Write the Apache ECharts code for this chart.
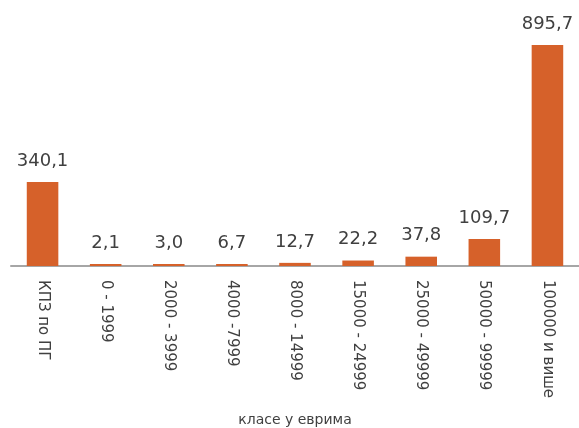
<!DOCTYPE html>
<html>
<head>
<meta charset="utf-8">
<script src="https://cdn.jsdelivr.net/npm/echarts@6/dist/echarts.min.js"></script>
<style>
  html, body { margin: 0; padding: 0; background: #fff; }
  #main { width: 579px; height: 428px; }
</style>
</head>
<body>
<div id="main"></div>
<script>
// категорије (класе у еврима)
var categories = ['КПЗ по ПГ', '0 - 1999', '2000 - 3999', '4000 -7999', '8000 - 14999',
  '15000 - 24999', '25000 - 49999', '50000 - 99999', '100000 и више'];
var values = [340.1, 2.1, 3.0, 6.7, 12.7, 22.2, 37.8, 109.7, 895.7];

var chart = echarts.init(document.getElementById('main'));

var option = {
  animation: false,
  textStyle: { fontFamily: 'DejaVu Sans' },
  grid: { left: 11, right: 0, top: 45, bottom: 162, outerBoundsMode: 'none' },
  xAxis: {
    type: 'category',
    data: categories,
    name: 'класе у еврима',
    nameLocation: 'middle',
    nameGap: 147,
    nameTextStyle: { fontSize: 14, color: '#404040' },
    axisLine: { lineStyle: { color: '#a6a6a6', width: 2 } },
    axisTick: { show: false },
    axisLabel: {
      rotate: -90,
      interval: 0,
      margin: 14,
      fontSize: 15,
      color: '#404040'
    }
  },
  yAxis: {
    type: 'value',
    min: 0,
    max: 895.7,
    show: false
  },
  series: [{
    type: 'bar',
    data: values,
    barWidth: '50%',
    barMinHeight: 2,
    itemStyle: { color: '#d6612a' },
    label: {
      show: true,
      position: 'top',
      distance: 12,
      fontSize: 18,
      color: '#404040',
      formatter: function (p) {
        return p.value.toFixed(1).replace('.', ',');
      }
    }
  }]
};

chart.setOption(option);
</script>
</body>
</html>
